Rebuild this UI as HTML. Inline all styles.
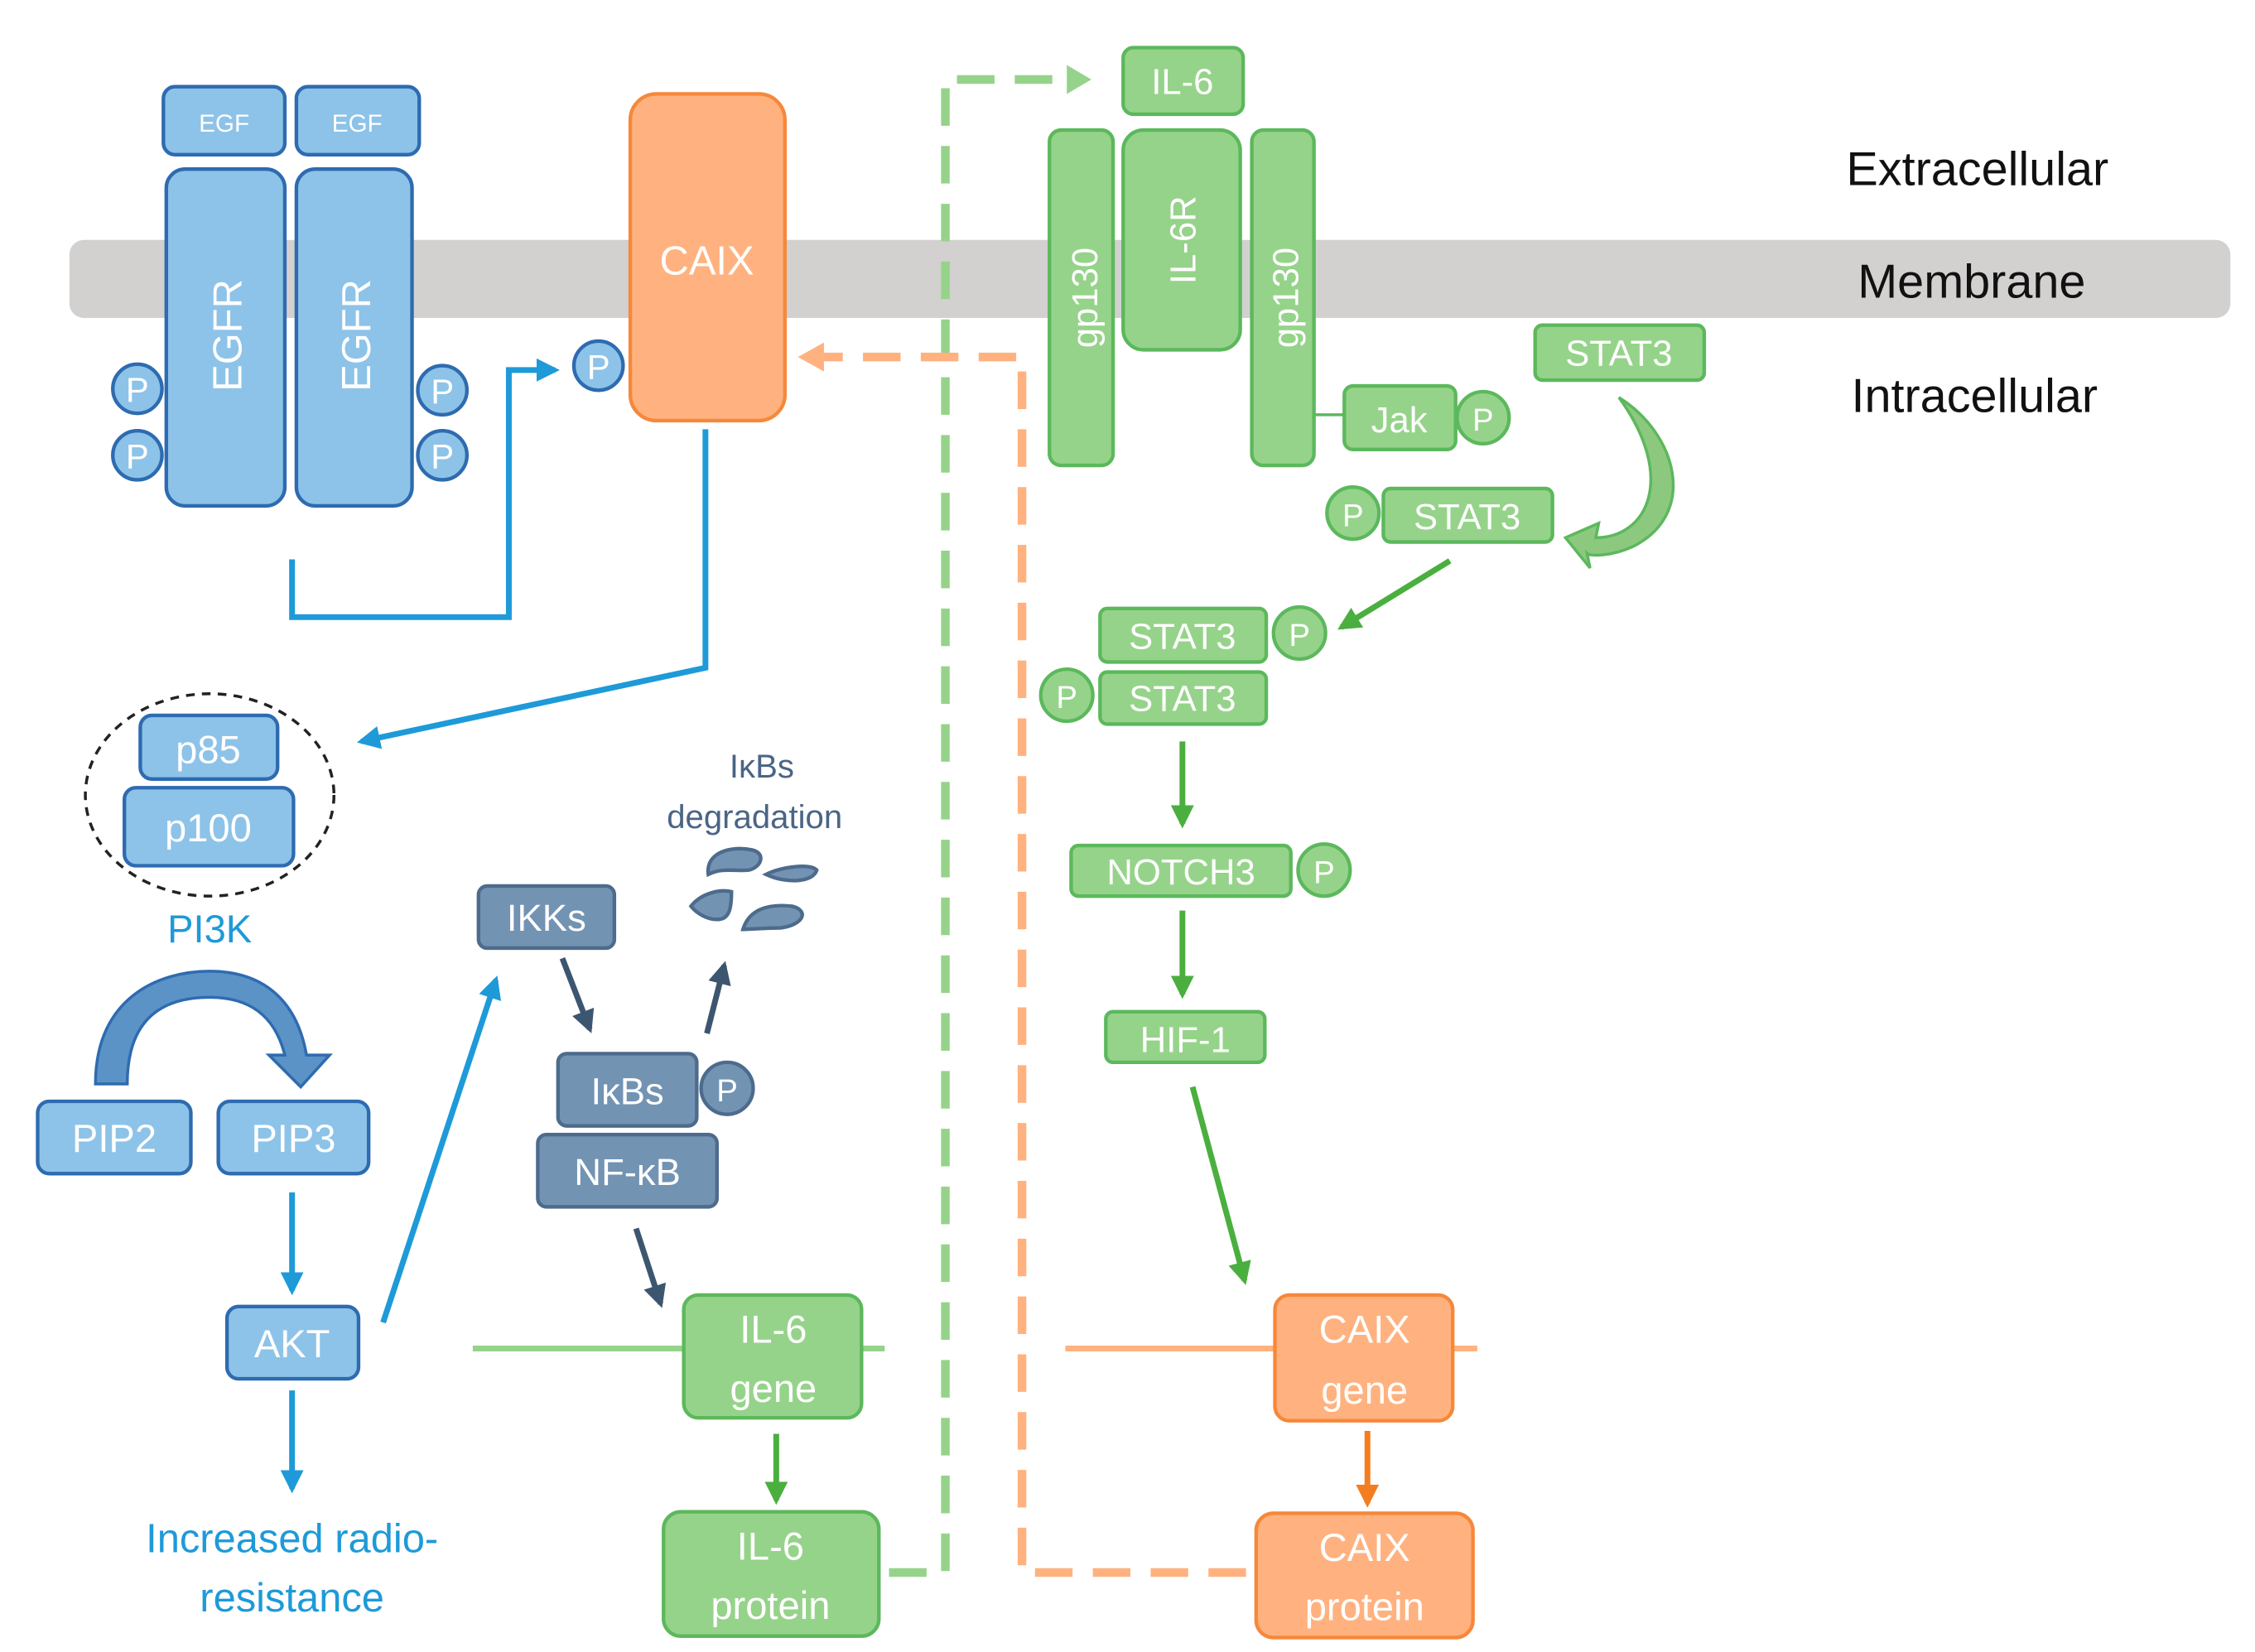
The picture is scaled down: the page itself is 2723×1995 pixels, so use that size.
<!DOCTYPE html>
<html><head><meta charset="utf-8"><style>
html,body{margin:0;padding:0;background:#fff;}
svg{display:block;}
text{font-family:"Liberation Sans",sans-serif;}
</style></head><body>
<svg width="2723" height="1995" viewBox="0 0 1560 1143" xmlns="http://www.w3.org/2000/svg">
<defs>
<marker id="ab" viewBox="0 0 10 10" refX="8" refY="5" markerWidth="4" markerHeight="4" orient="auto"><path d="M0,0L10,5L0,10z" fill="#1e9ad8"/></marker>
<marker id="ag" viewBox="0 0 10 10" refX="8" refY="5" markerWidth="4" markerHeight="4" orient="auto"><path d="M0,0L10,5L0,10z" fill="#4aaf3e"/></marker>
<marker id="ad" viewBox="0 0 10 10" refX="8" refY="5" markerWidth="4" markerHeight="4" orient="auto"><path d="M0,0L10,5L0,10z" fill="#3d5670"/></marker>
<marker id="ao" viewBox="0 0 10 10" refX="8" refY="5" markerWidth="4" markerHeight="4" orient="auto"><path d="M0,0L10,5L0,10z" fill="#f47d20"/></marker>
</defs>
<!-- membrane -->
<rect x="48" y="166" width="1495" height="54" rx="10" fill="#d3d0d0"/>
<g font-size="33" fill="#111" text-anchor="middle">
<text x="1368" y="128">Extracellular</text>
<text x="1364" y="206">Membrane</text>
<text x="1366" y="285">Intracellular</text>
</g>

<!-- dashed connectors -->
<path d="M615,1088 H654 V55 H738" fill="none" stroke="#96d38a" stroke-width="6" stroke-dasharray="26,14"/>
<path d="M738,45 L755,55 L738,65z" fill="#96d38a"/>
<path d="M862,1088 H707 V247 H570" fill="none" stroke="#ffb27f" stroke-width="6" stroke-dasharray="26,14"/>
<path d="M570,237 L552,247 L570,257z" fill="#ffb27f"/>

<!-- EGFR complex -->
<g fill="#8dc3e8" stroke="#2e6bb0" stroke-width="2.5">
<rect x="113" y="60" width="84" height="47" rx="8"/>
<rect x="205" y="60" width="85" height="47" rx="8"/>
<rect x="115" y="117" width="82" height="233" rx="13"/>
<rect x="205" y="117" width="80" height="233" rx="13"/>
<circle cx="95" cy="269" r="17"/><circle cx="95" cy="315" r="17"/>
<circle cx="306" cy="270" r="17"/><circle cx="306" cy="315" r="17"/>
<circle cx="414" cy="253" r="17"/>
<rect x="97" y="495" width="95" height="44" rx="8"/>
<rect x="86" y="545" width="117" height="54" rx="8"/>
<rect x="26" y="762" width="106" height="50" rx="8"/>
<rect x="151" y="762" width="104" height="50" rx="8"/>
<rect x="157" y="904" width="91" height="50" rx="8"/>
</g>
<g fill="#fff" text-anchor="middle">
<text x="155" y="91" font-size="17">EGF</text>
<text x="247" y="91" font-size="17">EGF</text>
<text transform="translate(167,232) rotate(-90)" font-size="28">EGFR</text>
<text transform="translate(256,232) rotate(-90)" font-size="28">EGFR</text>
<g font-size="24"><text x="95" y="278">P</text><text x="95" y="324">P</text><text x="306" y="279">P</text><text x="306" y="324">P</text><text x="414" y="262">P</text></g>
<text x="144" y="528" font-size="27">p85</text>
<text x="144" y="582" font-size="27">p100</text>
<text x="79" y="797" font-size="27">PIP2</text>
<text x="203" y="797" font-size="27">PIP3</text>
<text x="202" y="939" font-size="27">AKT</text>
</g>
<ellipse cx="145" cy="550" rx="86" ry="70" fill="none" stroke="#222" stroke-width="2" stroke-dasharray="6,5"/>
<text x="145" y="652" font-size="27" fill="#1e9ad8" text-anchor="middle">PI3K</text>
<!-- PIP2->PIP3 curved arrow -->
<path d="M66,750 C66,690 110,672 145,672 C180,672 205,690 212,730 L228,730 L208,752 L186,730 L197,730 C190,702 172,690 145,690 C112,690 88,705 88,750 Z" fill="#5b93c7" stroke="#2e6bb0" stroke-width="2"/>

<!-- CAIX -->
<rect x="436" y="65" width="107" height="226" rx="18" fill="#ffb27f" stroke="#f6883a" stroke-width="2.5"/>
<text x="489" y="190" font-size="28" fill="#fff" text-anchor="middle">CAIX</text>

<!-- blue lines -->
<g fill="none" stroke="#1e9ad8" stroke-width="4">
<path d="M202,387 V427 H352 V256 H384" marker-end="url(#ab)"/>
<path d="M488,297 V462 L250,513" marker-end="url(#ab)"/>
<path d="M202,825 V893" marker-end="url(#ab)"/>
<path d="M202,962 V1030" marker-end="url(#ab)"/>
<path d="M265,915 L343,678" marker-end="url(#ab)"/>
</g>
<g font-size="28" fill="#1e9ad8" text-anchor="middle">
<text x="202" y="1074">Increased radio-</text>
<text x="202" y="1115">resistance</text>
</g>

<!-- NF-kB pathway -->
<g fill="#7393b3" stroke="#4d6b8c" stroke-width="2.5">
<rect x="331" y="613" width="94" height="43" rx="6"/>
<rect x="386" y="729" width="96" height="50" rx="6"/>
<circle cx="503" cy="753" r="18"/>
<rect x="372" y="785" width="124" height="50" rx="6"/>
<path d="M490,605 C488,590 505,585 520,588 C530,590 527,600 518,602 C508,603 500,600 490,605Z"/>
<path d="M530,605 C540,600 560,597 565,602 C563,610 545,612 530,605Z"/>
<path d="M478,627 C485,618 498,615 506,617 C506,627 505,635 498,636 C490,637 482,632 478,627Z"/>
<path d="M514,643 C518,630 530,625 548,627 C560,630 556,640 540,642 C530,642 520,643 514,643Z"/>
</g>
<g fill="#fff" text-anchor="middle" font-size="26">
<text x="378" y="644">IKKs</text>
<text x="434" y="764">IκBs</text>
<text x="503" y="762" font-size="22">P</text>
<text x="434" y="820">NF-κB</text>
</g>
<g fill="#4a6585" text-anchor="middle" font-size="23">
<text x="527" y="538">IκBs</text>
<text x="522" y="573">degradation</text>
</g>
<g fill="none" stroke="#3d5670" stroke-width="4">
<path d="M389,663 L408,712" marker-end="url(#ad)"/>
<path d="M489,715 L501,668" marker-end="url(#ad)"/>
<path d="M440,850 L457,902" marker-end="url(#ad)"/>
</g>

<!-- gene lines -->
<line x1="327" y1="933" x2="612" y2="933" stroke="#96d38a" stroke-width="4"/>
<line x1="737" y1="933" x2="1022" y2="933" stroke="#ffb27f" stroke-width="4"/>

<!-- green elements -->
<g fill="#96d38a" stroke="#5cb85c" stroke-width="2.5">
<rect x="777" y="33" width="83" height="46" rx="7"/>
<rect x="726" y="90" width="44" height="232" rx="8"/>
<rect x="777" y="90" width="81" height="152" rx="14"/>
<rect x="866" y="90" width="43" height="232" rx="8"/>
<rect x="930" y="267" width="77" height="44" rx="6"/>
<circle cx="1026" cy="289" r="18"/>
<rect x="1062" y="225" width="117" height="38" rx="5"/>
<circle cx="936" cy="355" r="18"/>
<rect x="957" y="338" width="117" height="37" rx="5"/>
<rect x="761" y="421" width="115" height="37" rx="5"/>
<circle cx="899" cy="438" r="18"/>
<circle cx="738" cy="481" r="18"/>
<rect x="761" y="465" width="115" height="36" rx="5"/>
<rect x="741" y="585" width="152" height="35" rx="5"/>
<circle cx="916" cy="602" r="18"/>
<rect x="765" y="700" width="110" height="35" rx="5"/>
<rect x="473" y="896" width="123" height="85" rx="10"/>
<rect x="459" y="1046" width="149" height="86" rx="12"/>
</g>
<line x1="909" y1="287" x2="930" y2="287" stroke="#5cb85c" stroke-width="2"/>
<!-- STAT3 curved arrow -->
<path d="M1120,275 C1160,300 1175,355 1130,378 C1115,385 1100,385 1098,383 L1100,393 L1083,372 L1106,362 L1104,372 C1140,372 1160,330 1120,275Z" fill="#8cc97f" stroke="#5cb85c" stroke-width="2"/>
<g fill="#fff" text-anchor="middle" font-size="25">
<text x="818" y="65">IL-6</text>
<text transform="translate(759,206) rotate(-90)" font-size="25">gp130</text>
<text transform="translate(827,166) rotate(-90)" font-size="25">IL-6R</text>
<text transform="translate(898,206) rotate(-90)" font-size="25">gp130</text>
<text x="968" y="299">Jak</text>
<text x="1026" y="298" font-size="22">P</text>
<text x="1120" y="253">STAT3</text>
<text x="936" y="364" font-size="22">P</text>
<text x="1015" y="366">STAT3</text>
<text x="818" y="449">STAT3</text>
<text x="899" y="447" font-size="22">P</text>
<text x="738" y="490" font-size="22">P</text>
<text x="818" y="492">STAT3</text>
<text x="817" y="612">NOTCH3</text>
<text x="916" y="611" font-size="22">P</text>
<text x="820" y="728">HIF-1</text>
<text x="535" y="929" font-size="27">IL-6</text>
<text x="535" y="970" font-size="27">gene</text>
<text x="533" y="1079" font-size="27">IL-6</text>
<text x="533" y="1120" font-size="27">protein</text>
</g>
<g fill="none" stroke="#4aaf3e" stroke-width="4">
<path d="M1003,388 L928,434" marker-end="url(#ag)"/>
<path d="M818,513 V570" marker-end="url(#ag)"/>
<path d="M818,630 V688" marker-end="url(#ag)"/>
<path d="M825,752 L861,886" marker-end="url(#ag)"/>
<path d="M537,992 V1038" marker-end="url(#ag)"/>
</g>

<!-- orange gene/protein -->
<g fill="#ffb27f" stroke="#f6883a" stroke-width="2.5">
<rect x="882" y="896" width="123" height="87" rx="10"/>
<rect x="869" y="1047" width="150" height="86" rx="12"/>
</g>
<path d="M946,990 V1040" fill="none" stroke="#f47d20" stroke-width="4" marker-end="url(#ao)"/>
<g fill="#fff" text-anchor="middle" font-size="27">
<text x="944" y="929">CAIX</text>
<text x="944" y="971">gene</text>
<text x="944" y="1080">CAIX</text>
<text x="944" y="1121">protein</text>
</g>
</svg>
</body></html>
